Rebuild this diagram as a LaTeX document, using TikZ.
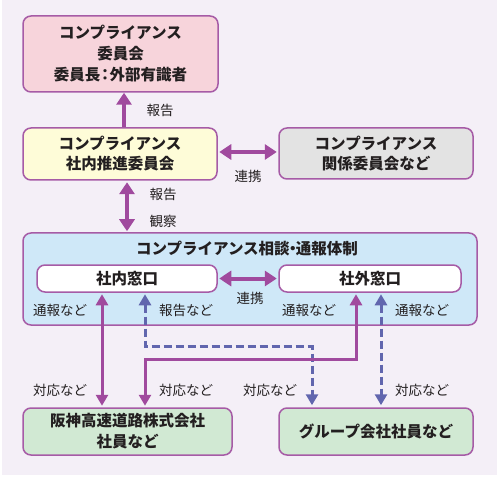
\documentclass[tikz,border=0pt]{standalone}
\usepackage{fontspec}
\newfontfamily\jp{Noto Sans CJK JP}
\usetikzlibrary{arrows.meta}
\definecolor{bgc}{HTML}{F4EFF7}
\definecolor{bord}{HTML}{A65BA6}
\definecolor{arr}{HTML}{A04A9E}
\definecolor{darr}{HTML}{6166AE}
\definecolor{pinkf}{HTML}{F7D4DB}
\definecolor{yelf}{HTML}{FEFCD8}
\definecolor{grayf}{HTML}{E3E3E3}
\definecolor{bluef}{HTML}{CFE8F8}
\definecolor{greenf}{HTML}{D1E9D3}
\definecolor{txt}{HTML}{231F20}
\tikzset{
  box/.style={draw=bord, line width=1.5pt, rounded corners=8pt, inner sep=0pt, align=center, text=txt,
    font=\jp\bfseries\fontsize{15.5}{21}\selectfont},
  lbl/.style={text=txt, inner sep=0pt, font=\jp\fontsize{13.5}{16}\selectfont},
  bigarrow/.style={draw=arr, line width=4.5pt, {Triangle[width=15pt,length=12pt]}-{Triangle[width=15pt,length=12pt]}},
  bigup/.style={draw=arr, line width=4.5pt, -{Triangle[width=15pt,length=12pt]}},
  smarrow/.style={draw=arr, line width=3pt, {Triangle[width=12pt,length=11pt]}-{Triangle[width=12pt,length=11pt]}},
  dsarrow/.style={draw=darr, line width=3pt, dash pattern=on 8pt off 4pt, {Triangle[width=12pt,length=11pt]}-{Triangle[width=12pt,length=11pt]}},
}
\begin{document}
\begin{tikzpicture}[x=1pt,y=-1pt]
\useasboundingbox (0,0) rectangle (500,478);
\fill[white] (0,0) rectangle (500,478);
\fill[bgc] (2,0) rectangle (497,475);

\node[box, fill=pinkf, minimum width=195pt, minimum height=76pt] (cc) at (120.5,54)
  {コンプライアンス\\委員会\\委員長\hspace{-0.2em}：\hspace{-0.2em}外部有識者};
\node[box, fill=yelf, minimum width=194pt, minimum height=52pt, font=\jp\bfseries\fontsize{15.5}{20}\selectfont] (yel) at (120,154)
  {コンプライアンス\\社内推進委員会};
\node[box, fill=grayf, minimum width=194pt, minimum height=51pt, font=\jp\bfseries\fontsize{15.5}{20}\selectfont] (gry) at (376,153.5)
  {コンプライアンス\\関係委員会など};
\node[box, fill=bluef, minimum width=454pt, minimum height=92pt] (blu) at (250,279) {};
\node[lbl, font=\jp\bfseries\fontsize{15.5}{18}\selectfont] (ttl) at (247,249) {コンプライアンス相談\hspace{-0.3em}・\hspace{-0.3em}通報体制};
\node[box, fill=white, minimum width=180pt, minimum height=27pt] (nai) at (127,278.5) {社内窓口};
\node[box, fill=white, minimum width=182pt, minimum height=27pt] (gai) at (370,278.5) {社外窓口};
\node[box, fill=greenf, minimum width=209pt, minimum height=47pt, font=\jp\bfseries\fontsize{15.5}{21}\selectfont] (han) at (127.5,431.5)
  {阪神高速道路株式会社\\社員など};
\node[box, fill=greenf, minimum width=194pt, minimum height=47pt] (grp) at (376,431.5) {グループ会社社員など};

% top arrows
\draw[bigup] (124,0 |- yel.north) -- (124,0 |- cc.south);
\node[lbl] (l1) at (160,110) {報告};
\draw[bigarrow] ([yshift=-1.5pt]127,0 |- yel.south) -- ([yshift=1pt]127,0 |- blu.north);
\node[lbl] (l2) at (163,194) {報告};
\node[lbl] (l3) at (163,221) {観察};
\draw[bigarrow] ([xshift=1.5pt]yel.east |- 0,152) -- ([xshift=-1.5pt]gry.west |- 0,152);
\node[lbl] (l4) at (248,176) {連携};

% inner
\draw[bigarrow, line width=4pt] ([xshift=1.5pt]nai.east) -- ([xshift=-1.5pt]gai.west);
\node[lbl] (l5) at (250,298) {連携};
\node[lbl] (l6) at (60,310) {通報など};
\node[lbl] (l7) at (186,310) {報告など};
\node[lbl] (l8) at (309,310) {通報など};
\node[lbl] (l9) at (422,310) {通報など};

% lower connectors
\coordinate (d1) at (145,346);
\coordinate (d2) at (312,346);
\coordinate (s1) at (356,359);
\coordinate (s2) at (145,359);
\draw[smarrow] ([yshift=-1.5pt]102,0 |- nai.south) -- ([yshift=1.5pt]102,0 |- han.north);
\draw[dsarrow] ([yshift=-1.5pt]145,0 |- nai.south) -- (d1) -- (d2) -- ([yshift=2pt]312,0 |- grp.north);
\draw[smarrow] ([yshift=-1.5pt]356,0 |- gai.south) -- (s1) -- (s2) -- ([yshift=1.5pt]145,0 |- han.north);
\draw[dsarrow] ([yshift=-1.5pt]381,0 |- gai.south) -- ([yshift=2pt]381,0 |- grp.north);

\node[lbl] (m1) at (60,390) {対応など};
\node[lbl] (m2) at (186,390) {対応など};
\node[lbl] (m3) at (270,390) {対応など};
\node[lbl] (m4) at (422,390) {対応など};
\end{tikzpicture}
\end{document}
